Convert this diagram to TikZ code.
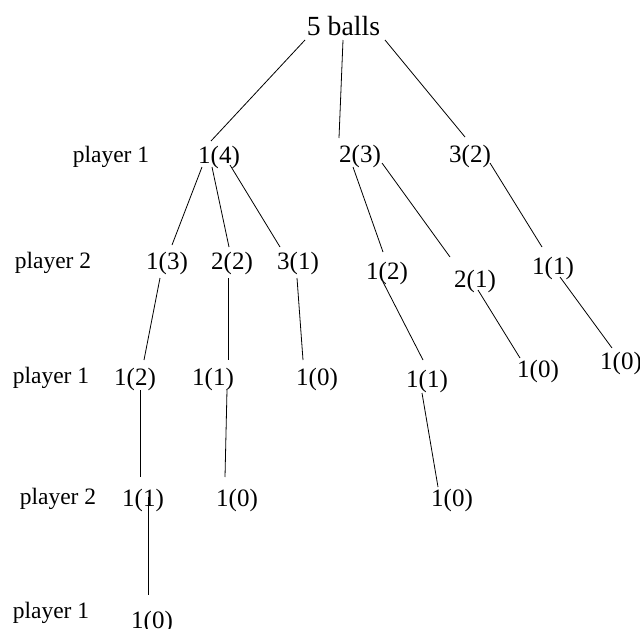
\documentclass[tikz,border=0pt]{standalone}
\usepackage{fontspec}
\setmainfont{Liberation Serif}
\begin{document}
\begin{tikzpicture}[x=1pt,y=-1pt,
  num/.style={anchor=base,inner sep=0pt,font=\fontsize{25}{30}\selectfont},
  plab/.style={anchor=base,inner sep=0pt,font=\fontsize{23.5}{28}\selectfont},
  ttl/.style={anchor=base,inner sep=0pt,font=\fontsize{27.7}{33}\selectfont},
  edge/.style={line width=0.8pt,black}]
\useasboundingbox (0,0) rectangle (640,629);
% title
\node[ttl] (root) at (343.5,35) {5 balls};
% row labels
\node[plab] (p1a) at (111,162) {player 1};
\node[plab] (p2a) at (53,268) {player 2};
\node[plab] (p1b) at (51,383) {player 1};
\node[plab] (p2b) at (58,504) {player 2};
\node[plab] (p1c) at (51,618) {player 1};
% level 1
\node[num] (n14) at (219,163) {1(4)};
\node[num] (n23) at (360,162) {2(3)};
\node[num] (n32) at (470,162) {3(2)};
% level 2
\node[num] (n13) at (167,269) {1(3)};
\node[num] (n22) at (232,269) {2(2)};
\node[num] (n31) at (298,269) {3(1)};
\node[num] (n12b) at (387,279) {1(2)};
\node[num] (n21) at (475,287) {2(1)};
\node[num] (n11c) at (553,274) {1(1)};
% level 3
\node[num] (n12a) at (135,385) {1(2)};
\node[num] (n11a) at (213,385) {1(1)};
\node[num] (n10a) at (317,385) {1(0)};
\node[num] (n11b) at (427,387) {1(1)};
\node[num] (n10b) at (538,377) {1(0)};
\node[num] (n10c) at (621,369) {1(0)};
% level 4
\node[num] (n11d) at (143,506) {1(1)};
\node[num] (n10d) at (237,506) {1(0)};
\node[num] (n10e) at (452,506) {1(0)};
% level 5
\node[num] (n10f) at (152,628) {1(0)};
% connectors
\draw[edge] ([shift={(-38.5,5)}]root.base) -- ([shift={(-8,-22)}]n14.base);
\draw[edge] ([shift={(-0.5,5)}]root.base) -- ([shift={(-21,-24)}]n23.base);
\draw[edge] ([shift={(41.5,5)}]root.base) -- ([shift={(-5,-25)}]n32.base);
\draw[edge] ([shift={(-17,4)}]n14.base) -- ([shift={(5,-24)}]n13.base);
\draw[edge] ([shift={(-7,4)}]n14.base) -- ([shift={(-3,-22)}]n22.base);
\draw[edge] ([shift={(11,2)}]n14.base) -- ([shift={(-18,-22)}]n31.base);
\draw[edge] ([shift={(-7,5)}]n23.base) -- ([shift={(-4,-27)}]n12b.base);
\draw[edge] ([shift={(22,1)}]n23.base) -- ([shift={(-25,-30)}]n21.base);
\draw[edge] ([shift={(20,1)}]n32.base) -- ([shift={(-11,-27)}]n11c.base);
\draw[edge] ([shift={(-7,9)}]n13.base) -- ([shift={(9,-25)}]n12a.base);
\draw[edge] ([shift={(-4,9)}]n22.base) -- ([shift={(15,-25)}]n11a.base);
\draw[edge] ([shift={(-1,9)}]n31.base) -- ([shift={(-14,-25)}]n10a.base);
\draw[edge] ([shift={(-4,3)}]n12b.base) -- ([shift={(-4,-27)}]n11b.base);
\draw[edge] ([shift={(3,3)}]n21.base) -- ([shift={(-18,-19)}]n10b.base);
\draw[edge] ([shift={(7,3)}]n11c.base) -- ([shift={(-9,-21)}]n10c.base);
\draw[edge] ([shift={(5,5)}]n12a.base) -- ([shift={(-3,-29)}]n11d.base);
\draw[edge] ([shift={(14,5)}]n11a.base) -- ([shift={(-12,-29)}]n10d.base);
\draw[edge] ([shift={(-5,6)}]n11b.base) -- ([shift={(-14,-19)}]n10e.base);
\draw[edge] ([shift={(5,-9)}]n11d.base) -- ([shift={(-4,-33)}]n10f.base);
\end{tikzpicture}
\end{document}
